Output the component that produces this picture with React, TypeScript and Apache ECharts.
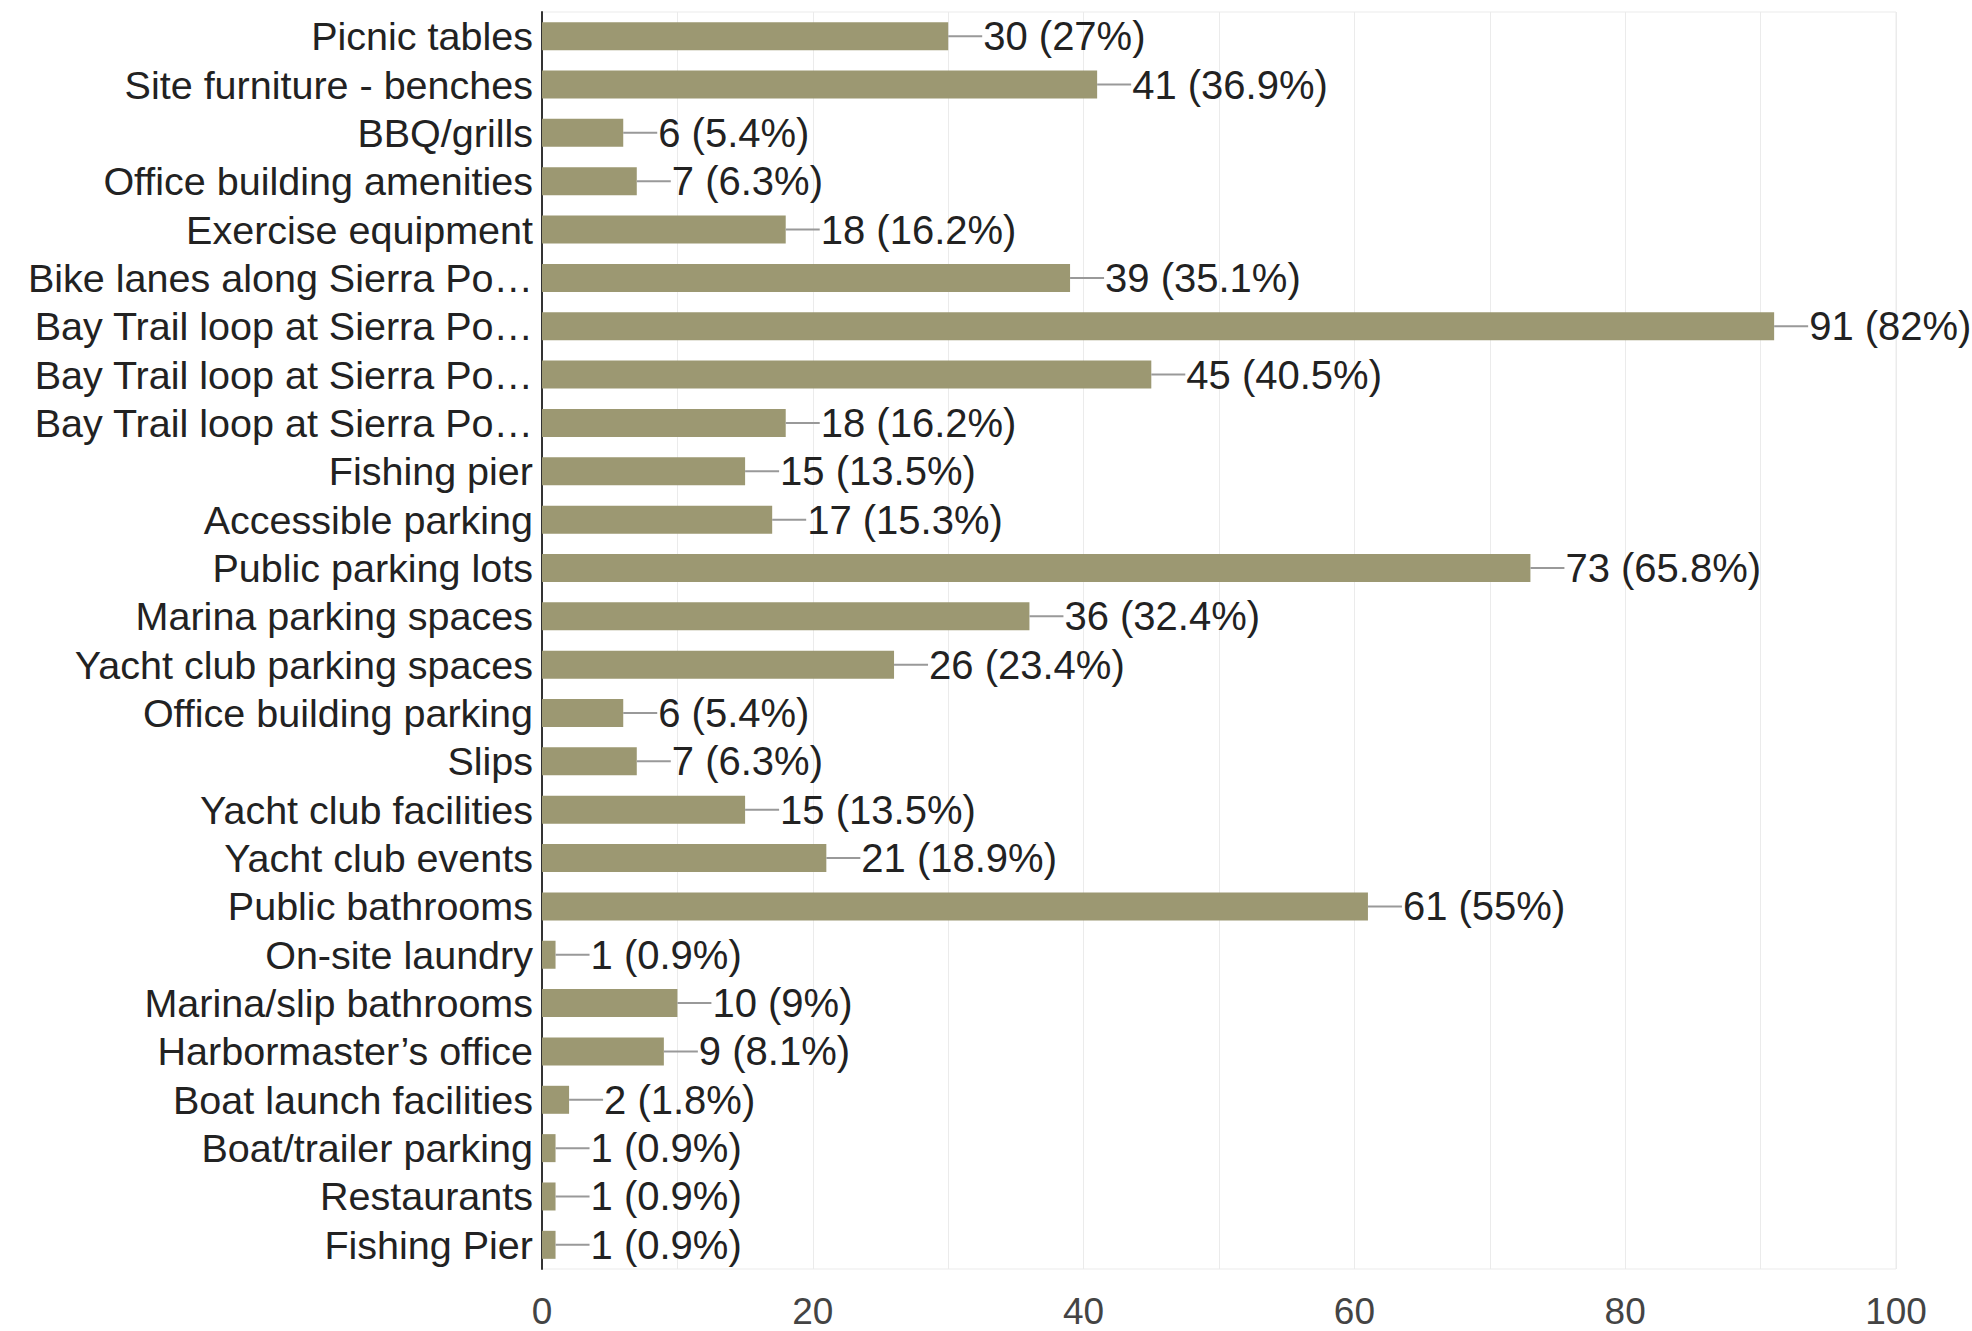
import React, { useEffect, useRef } from "react";
import * as echarts from "echarts";

const categories = [
  "Picnic tables",
  "Site furniture - benches",
  "BBQ/grills",
  "Office building amenities",
  "Exercise equipment",
  "Bike lanes along Sierra Po…",
  "Bay Trail loop at Sierra Po…",
  "Bay Trail loop at Sierra Po…",
  "Bay Trail loop at Sierra Po…",
  "Fishing pier",
  "Accessible parking",
  "Public parking lots",
  "Marina parking spaces",
  "Yacht club parking spaces",
  "Office building parking",
  "Slips",
  "Yacht club facilities",
  "Yacht club events",
  "Public bathrooms",
  "On-site laundry",
  "Marina/slip bathrooms",
  "Harbormaster’s office",
  "Boat launch facilities",
  "Boat/trailer parking",
  "Restaurants",
  "Fishing Pier",
];

const counts = [30, 41, 6, 7, 18, 39, 91, 45, 18, 15, 17, 73, 36, 26, 6, 7, 15, 21, 61, 1, 10, 9, 2, 1, 1, 1];

const percents = ["27", "36.9", "5.4", "6.3", "16.2", "35.1", "82", "40.5", "16.2", "13.5", "15.3", "65.8", "32.4", "23.4", "5.4", "6.3", "13.5", "18.9", "55", "0.9", "9", "8.1", "1.8", "0.9", "0.9", "0.9"];

const xTicks = [0, 20, 40, 60, 80, 100];

const FONT = "Arial, 'Liberation Sans', sans-serif";

export default function App() {
  const ref = useRef<HTMLDivElement>(null);
  useEffect(() => {
    if (!ref.current) return;
    const chart = echarts.init(ref.current, undefined, { renderer: "svg" });
    const labelData = counts.map((v, i) => ({ value: [v, i], label: `${v} (${percents[i]}%)` }));
    chart.setOption({
      animation: false,
      backgroundColor: "#ffffff",
      grid: {
        left: 542,
        right: 76,
        top: 12,
        bottom: 62,
        containLabel: false,
        outerBoundsMode: "none",
        show: true,
        borderColor: "#ebebeb",
        borderWidth: 1,
      },
      xAxis: {
        type: "value",
        min: 0,
        max: 100,
        interval: 10,
        axisLine: { show: false },
        axisTick: { show: false },
        splitLine: { show: true, lineStyle: { color: "#ebebeb", width: 1 } },
        axisLabel: {
          fontSize: 37,
          lineHeight: 36,
          fontFamily: FONT,
          color: "#444",
          margin: 24,
          formatter: (v: number) => (xTicks.includes(v) ? String(v) : ""),
        },
      },
      yAxis: {
        type: "category",
        data: categories,
        inverse: true,
        axisLine: { show: true, lineStyle: { color: "#333", width: 2 } },
        axisTick: { show: false },
        axisLabel: {
          fontSize: 39.5,
          fontFamily: FONT,
          color: "#222",
          margin: 9,
          interval: 0,
        },
        splitLine: { show: false },
      },
      series: [
        {
          type: "bar",
          data: counts,
          barWidth: 28,
          itemStyle: { color: "#9c9872" },
          z: 2,
        },
        {
          type: "custom",
          data: labelData,
          encode: { x: 0, y: 1 },
          z: 3,
          renderItem: (params: any, api: any) => {
            const v = api.value(0);
            const idx = api.value(1);
            const p = api.coord([v, idx]);
            const item = labelData[params.dataIndex];
            return {
              type: "group",
              children: [
                {
                  type: "line",
                  shape: { x1: p[0], y1: p[1], x2: p[0] + 34, y2: p[1] },
                  style: { stroke: "#999", lineWidth: 2 },
                },
                {
                  type: "text",
                  x: p[0] + 35,
                  y: p[1],
                  style: {
                    text: item.label,
                    fontSize: 40,
                    fontFamily: FONT,
                    fill: "#222",
                    align: "left",
                    verticalAlign: "middle",
                  },
                },
              ],
            };
          },
        },
      ],
    });
    return () => chart.dispose();
  }, []);
  return (
    <div
      ref={ref}
      style={{ position: "absolute", left: 0, top: 0, width: 1972, height: 1331 }}
    />
  );
}
